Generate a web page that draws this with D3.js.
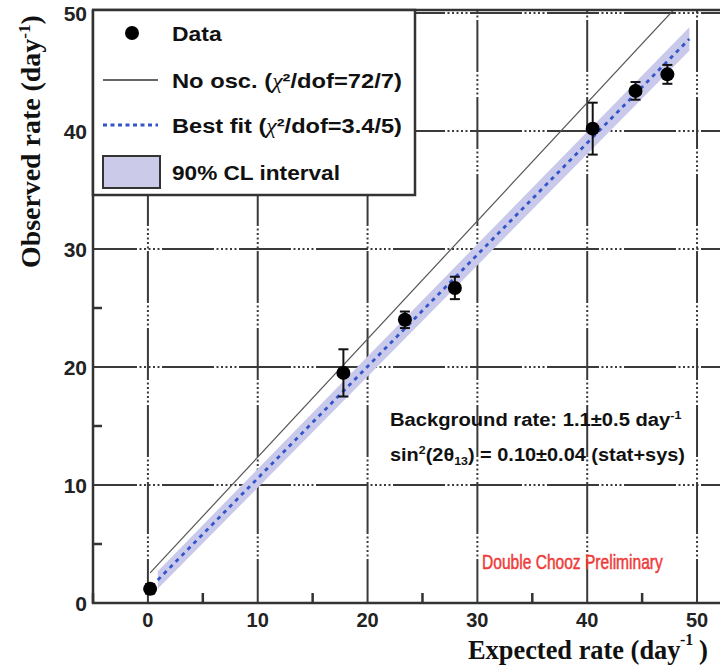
<!DOCTYPE html>
<html><head><meta charset="utf-8">
<script src="https://cdn.jsdelivr.net/npm/d3@7"></script>
<style>body{margin:0;background:#fff}svg{display:block}</style>
</head><body>
<svg id="c" width="720" height="668"></svg>
<script>
// ---- data ----
const expected = [0.2, 17.8, 23.4, 27.95, 40.5, 44.4, 47.3];
const observed = [1.2, 19.5, 24.0, 26.7, 40.2, 43.4, 44.8];
const obsErr   = [0.4, 2.0, 0.7, 0.95, 2.2, 0.75, 0.8];
const noOscX = [0.2, 50];
const noOscY = [2.55, 52.4];
const fitX = [0.9, 49.3];
const fitY = [1.95, 47.8];
const bandX = [0.9, 49.3];
const bandLo = [1.2, 46.8];
const bandHi = [2.7, 48.8];
const xTicks = [0, 10, 20, 30, 40, 50];
const yTicks = [0, 10, 20, 30, 40, 50];
const minorTicks = [-5, 5, 15, 25, 35, 45];

const svg = d3.select("#c");
const x = d3.scaleLinear([-5, 52], [93, 719]);
const y = d3.scaleLinear([0, 50], [603, 13]);
const SANS = "'Liberation Sans', Arial, sans-serif";
const SERIF = "'Liberation Serif', 'Times New Roman', serif";

function fit(t, w){ const b = t.node().getBBox(); t.attr("transform", `scale(${w/b.width},1)`); return t; }

svg.append("clipPath").attr("id","pa").append("rect").attr("x",93).attr("y",10).attr("width",627).attr("height",593);

// grid
const gridDash = "52,2.5,2,2.5,2,2.5,2,2.5,2,2.5,2,2.5";
const g = svg.append("g").attr("stroke","#3a3a3a").attr("stroke-width",2).attr("fill","none");
xTicks.forEach(v => g.append("line").attr("x1",x(v)).attr("x2",x(v)).attr("y1",603).attr("y2",10)
  .attr("stroke-dasharray",gridDash).attr("stroke-dashoffset",8));
yTicks.filter(v=>v>0).forEach(v => g.append("line").attr("x1",93).attr("x2",720).attr("y1",y(v)).attr("y2",y(v))
  .attr("stroke-dasharray",gridDash).attr("stroke-dashoffset",8));

// band
const area = d3.area().x(d=>x(d[0])).y0(d=>y(d[1])).y1(d=>y(d[2]));
svg.append("path").datum(bandX.map((v,i)=>[v,bandLo[i],bandHi[i]])).attr("d",area)
  .attr("fill","#c9c9ec").attr("clip-path","url(#pa)");

// no osc line
const line = d3.line().x(d=>x(d[0])).y(d=>y(d[1]));
svg.append("path").datum(noOscX.map((v,i)=>[v,noOscY[i]])).attr("d",line)
  .attr("stroke","#555").attr("stroke-width",1.2).attr("fill","none").attr("clip-path","url(#pa)");
// best fit
svg.append("path").datum(fitX.map((v,i)=>[v,fitY[i]])).attr("d",line)
  .attr("stroke","#3355c8").attr("stroke-width",2.8).attr("stroke-dasharray","4,4.5").attr("fill","none");

// axes frame
const ax = svg.append("g").attr("stroke","#333").attr("stroke-width",2.5);
ax.append("line").attr("x1",93).attr("x2",93).attr("y1",10).attr("y2",604);
ax.append("line").attr("x1",92).attr("x2",720).attr("y1",603).attr("y2",603);
ax.append("line").attr("x1",92).attr("x2",720).attr("y1",10).attr("y2",10);
minorTicks.forEach(v => {
  ax.append("line").attr("x1",x(v)).attr("x2",x(v)).attr("y1",603).attr("y2",593);
  if (v > 0) ax.append("line").attr("x1",93).attr("x2",102).attr("y1",y(v)).attr("y2",y(v));
});

// tick labels
svg.append("g").selectAll("text").data(yTicks).join("text")
  .attr("x",87).attr("y",d=>y(d)).attr("dy","0.36em").attr("text-anchor","end")
  .attr("font-family",SANS).attr("font-weight","bold").attr("font-size",21).attr("fill","#222").text(d=>d);
svg.append("g").selectAll("text").data(xTicks).join("text")
  .attr("x",d=>x(d)).attr("y",627).attr("text-anchor","middle")
  .attr("font-family",SANS).attr("font-weight","bold").attr("font-size",20).attr("fill","#222").text(d=>d);

// axis titles
function supText(parent, parts, fam, size){
  const t = parent.append("text").attr("font-family",fam).attr("font-weight","bold").attr("font-size",size).attr("fill","#111");
  parts.forEach(p => {
    const s = t.append("tspan").text(p[0]);
    if (p[1]==="sup") s.attr("font-size",size*0.62).attr("baseline-shift","60%");
    if (p[1]==="sub") s.attr("font-size",size*0.62).attr("baseline-shift","-35%");
    if (p[1]==="chi") s.attr("font-family",SERIF).attr("font-style","italic").attr("font-weight","normal");
  });
  return t;
}
const yt = svg.append("g").attr("transform","translate(40,268) rotate(-90)");
fit(supText(yt, [["Observed rate (day"],["-1","sup"],[")"]], SERIF, 27), 253);

// x title in pieces
const xt1 = svg.append("g").attr("transform","translate(468,659)");
fit(xt1.append("text").attr("font-family",SERIF).attr("font-weight","bold").attr("font-size",27).attr("fill","#111").text("Expected rate (day"), 213);
svg.append("text").attr("x",680).attr("y",645).attr("font-family",SERIF).attr("font-weight","bold").attr("font-size",16).attr("fill","#111").text("-1");
svg.append("text").attr("x",699).attr("y",659).attr("font-family",SERIF).attr("font-weight","bold").attr("font-size",27).attr("fill","#111").text(")");

// annotations
const a1 = svg.append("g").attr("transform","translate(390,426)");
fit(supText(a1, [["Background rate: 1.1±0.5 day"],["-1","sup"]], SANS, 19), 292);
const a2 = svg.append("g").attr("transform","translate(390,461)");
fit(supText(a2, [["sin"],["2","sup"],["(2θ"],["13","sub"],[") = 0.10±0.04 (stat+sys)"]], SANS, 19), 295);
const a3 = svg.append("g").attr("transform","translate(482,569)");
fit(a3.append("text").attr("font-family",SANS).attr("font-size",20).attr("fill","#f03a3a")
  .attr("stroke","#f03a3a").attr("stroke-width",0.5).text("Double Chooz Preliminary"), 181);

// data points
const pts = svg.append("g");
expected.forEach((v,i) => {
  const cx = x(v), cy = y(observed[i]);
  pts.append("line").attr("x1",cx).attr("x2",cx).attr("y1",y(observed[i]-obsErr[i])).attr("y2",y(observed[i]+obsErr[i]))
    .attr("stroke","#111").attr("stroke-width",2);
  [observed[i]-obsErr[i], observed[i]+obsErr[i]].forEach(e =>
    pts.append("line").attr("x1",cx-5).attr("x2",cx+5).attr("y1",y(e)).attr("y2",y(e)).attr("stroke","#111").attr("stroke-width",2));
  pts.append("circle").attr("cx",cx).attr("cy",cy).attr("r",7).attr("fill","#000");
});

// legend
const L = svg.append("g");
L.append("rect").attr("x",93).attr("y",10).attr("width",322).attr("height",185).attr("fill","#fff").attr("stroke","#333").attr("stroke-width",2.5);
L.append("circle").attr("cx",132).attr("cy",33).attr("r",7).attr("fill","#000");
L.append("line").attr("x1",103).attr("x2",158).attr("y1",80).attr("y2",80).attr("stroke","#333").attr("stroke-width",1.5);
L.append("line").attr("x1",103).attr("x2",158).attr("y1",125).attr("y2",125).attr("stroke","#3355c8").attr("stroke-width",2.8).attr("stroke-dasharray","4,3.5");
L.append("rect").attr("x",103).attr("y",156).attr("width",57).attr("height",32).attr("fill","#cbcbe9").attr("stroke","#333").attr("stroke-width",2);
const legTexts = [
  [[["Data"]], 41, 50],
  [[["No osc. ("],["χ","chi"],["²/dof=72/7)"]], 88, 230],
  [[["Best fit ("],["χ","chi"],["²/dof=3.4/5)"]], 133, 230],
  [[["90% CL interval"]], 180, 168]
];
legTexts.forEach(([parts, by, w]) => {
  const gg = L.append("g").attr("transform",`translate(172,${by})`);
  fit(supText(gg, parts, SANS, 21), w);
});
</script>
</body></html>
